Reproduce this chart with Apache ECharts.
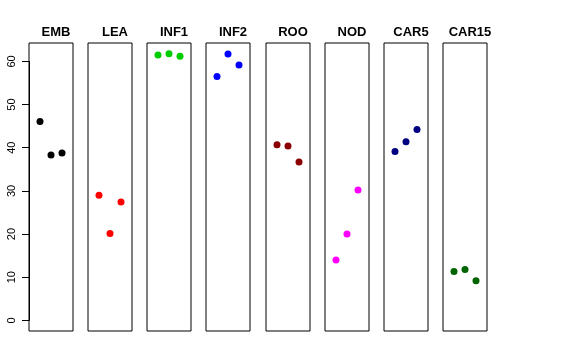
<!DOCTYPE html>
<html><head><meta charset="utf-8">
<script src="https://cdn.jsdelivr.net/npm/echarts@6/dist/echarts.min.js"></script>
<style>html,body{margin:0;padding:0;background:#fff}#c{width:576px;height:360px}</style>
</head><body><div id="c"></div>
<script>
const panels = ["EMB","LEA","INF1","INF2","ROO","NOD","CAR5","CAR15"];
const colors = ["#000000","#FF0000","#00CD00","#0000FF","#8B0000","#FF00FF","#000080","#006400"];
const xPos = [1,2,3];
const EMB = [46.1,38.3,38.8];
const LEA = [29.0,20.1,27.4];
const INF1 = [61.5,61.8,61.2];
const INF2 = [56.5,61.7,59.2];
const ROO = [40.7,40.4,36.7];
const NOD = [14.0,20.0,30.2];
const CAR5 = [39.1,41.4,44.2];
const CAR15 = [11.3,11.8,9.2];
const values = [EMB,LEA,INF1,INF2,ROO,NOD,CAR5,CAR15];
const yTicks = [0,60,10];

(function(){
const yMin = -2.47, yMax = 64.27;
const gTop = 43, gHeight = 288;
const grids = [], xAxes = [], yAxes = [], series = [], titles = [];
panels.forEach((p,i)=>{
  const left = Math.round(29 + 59.14*i);
  grids.push({left:left, top:gTop, width:44, height:gHeight, show:true, borderColor:'#000', borderWidth:1, backgroundColor:'transparent'});
  xAxes.push({gridIndex:i, type:'value', min:0, max:4, show:false});
  yAxes.push({gridIndex:i, type:'value', min:yMin, max:yMax, show:false});
  series.push({type:'scatter', xAxisIndex:i, yAxisIndex:i, symbolSize:7, silent:true,
    itemStyle:{color:colors[i], opacity:1},
    data: values[i].map((v,k)=>[xPos[k], v])});
  titles.push({text:p, left:left+22, top:21, textAlign:'center',
    textStyle:{fontFamily:'Liberation Sans', fontWeight:'bold', fontSize:13, color:'#000'}});
});
const gi = panels.length;
const ltop = gTop + gHeight*(yMax - yTicks[1])/(yMax-yMin);
const lh = gHeight*(yTicks[1]-yTicks[0])/(yMax-yMin);
grids.push({left:29, top:ltop, width:1, height:lh, show:false});
xAxes.push({gridIndex:gi, type:'value', show:false, min:0, max:1});
yAxes.push({gridIndex:gi, type:'value', min:yTicks[0], max:yTicks[1], interval:yTicks[2], position:'left',
  axisLine:{show:true, lineStyle:{color:'#000', width:1}},
  axisTick:{show:true, length:7, lineStyle:{color:'#000', width:1}},
  splitLine:{show:false},
  axisLabel:{show:true, rotate:90, margin:12, color:'#000', fontFamily:'Liberation Sans', fontSize:11}});

const chart = echarts.init(document.getElementById('c'), null, {renderer:'canvas'});
chart.setOption({animation:false, backgroundColor:'#fff', title:titles, grid:grids, xAxis:xAxes, yAxis:yAxes, series:series});
})();
</script></body></html>
